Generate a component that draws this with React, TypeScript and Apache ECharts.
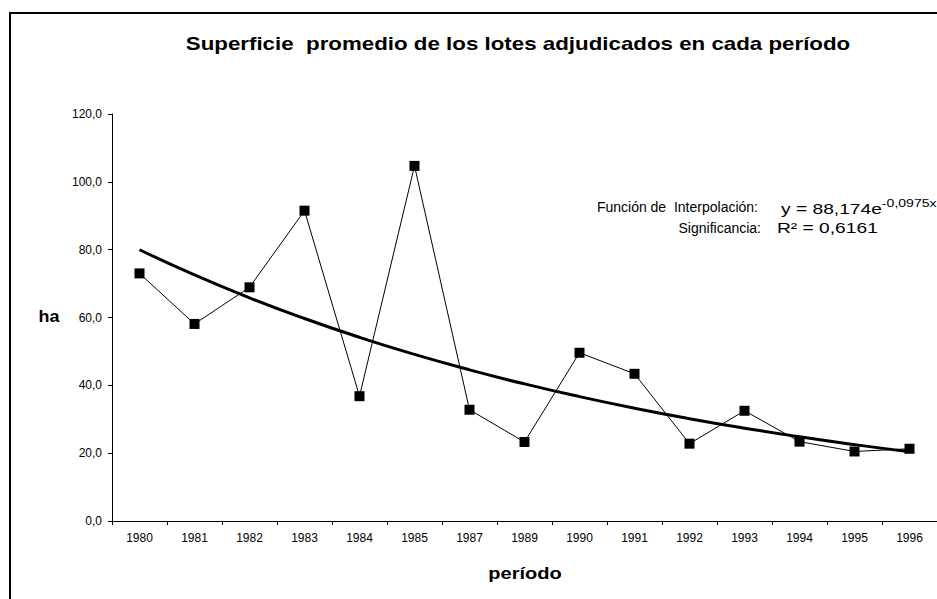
import React, { useEffect, useRef } from "react";
import * as echarts from "echarts";

const categories = ["1980", "1981", "1982", "1983", "1984", "1985", "1987", "1989", "1990", "1991", "1992", "1993", "1994", "1995", "1996"];
const superficie = [73.0, 58.1, 68.9, 91.5, 36.8, 104.7, 32.8, 23.3, 49.6, 43.4, 22.8, 32.5, 23.4, 20.5, 21.3];
// exponential trend (y = 88,174e^-0,0975x)
const tendencia = [79.98, 72.55, 65.81, 59.7, 54.15, 49.12, 44.56, 40.42, 36.67, 33.26, 30.17, 27.37, 24.83, 22.52, 20.43];
const yTicks = { min: 0, max: 120, interval: 20 };

const FONT = "Liberation Sans, Arial, sans-serif";

export default function App() {
  const ref = useRef<HTMLDivElement>(null);
  useEffect(() => {
    if (!ref.current) return;
    const chart = echarts.init(ref.current, undefined, { renderer: "svg" });
    chart.setOption({
      animation: false,
      backgroundColor: "#ffffff",
      grid: { left: 112, right: 0, top: 114, bottom: 78 },
      xAxis: {
        type: "category",
        data: categories,
        boundaryGap: true,
        axisLine: { lineStyle: { color: "#000", width: 1 } },
        axisTick: { show: true, length: 4, lineStyle: { color: "#000" } },
        axisLabel: { fontFamily: FONT, fontSize: 12, color: "#000", margin: 11 },
      },
      yAxis: {
        type: "value",
        min: yTicks.min,
        max: yTicks.max,
        interval: yTicks.interval,
        axisLine: { show: true, lineStyle: { color: "#000", width: 1 } },
        axisTick: { show: true, length: 4, lineStyle: { color: "#000" } },
        splitLine: { show: false },
        axisLabel: {
          fontFamily: FONT,
          fontSize: 12,
          color: "#000",
          margin: 10,
          formatter: (v: number) => v.toFixed(1).replace(".", ","),
        },
      },
      series: [
        {
          type: "line",
          data: superficie,
          symbol: "rect",
          symbolSize: 10,
          itemStyle: { color: "#000" },
          lineStyle: { color: "#000", width: 1 },
          z: 3,
        },
        {
          type: "line",
          data: tendencia,
          symbol: "none",
          smooth: true,
          lineStyle: { color: "#000", width: 3 },
          z: 2,
        },
      ],
      graphic: [
        {
          type: "rect",
          shape: { x: 10, y: 13, width: 1000, height: 700 },
          style: { fill: "none", stroke: "#000", lineWidth: 2 },
          silent: true,
        },
        {
          type: "text",
          x: 518,
          y: 44,
          scaleX: 1.24,
          style: {
            text: "Superficie  promedio de los lotes adjudicados en cada período",
            fontFamily: FONT, fontSize: 18, fontWeight: "bold", fill: "#000", align: "center", verticalAlign: "middle",
          },
        },
        {
          type: "text",
          x: 525,
          y: 573,
          scaleX: 1.18,
          style: { text: "período", fontFamily: FONT, fontSize: 17, fontWeight: "bold", fill: "#000", align: "center", verticalAlign: "middle" },
        },
        {
          type: "text",
          x: 49,
          y: 317,
          scaleX: 1.12,
          style: { text: "ha", fontFamily: FONT, fontSize: 16, fontWeight: "bold", fill: "#000", align: "center", verticalAlign: "middle" },
        },
        {
          type: "text",
          x: 758,
          y: 207,
          style: { text: "Función de  Interpolación:", fontFamily: FONT, fontSize: 14, fill: "#000", align: "right", verticalAlign: "middle" },
        },
        {
          type: "text",
          x: 781,
          y: 207,
          scaleX: 1.28,
          style: {
            text: "{a|y = 88,174e}{b|-0,0975x}",
            align: "left",
            verticalAlign: "middle",
            rich: {
              a: { fontFamily: FONT, fontSize: 15, fill: "#000", lineHeight: 18, verticalAlign: "bottom" },
              b: { fontFamily: FONT, fontSize: 11, fill: "#000", lineHeight: 11, verticalAlign: "top" },
            },
          },
        },
        {
          type: "text",
          x: 761,
          y: 228,
          style: { text: "Significancia:", fontFamily: FONT, fontSize: 14, fill: "#000", align: "right", verticalAlign: "middle" },
        },
        {
          type: "text",
          x: 777,
          y: 228,
          scaleX: 1.28,
          style: { text: "R² = 0,6161", fontFamily: FONT, fontSize: 15, fill: "#000", align: "left", verticalAlign: "middle" },
        },
      ],
    });
    return () => chart.dispose();
  }, []);
  return <div ref={ref} style={{ position: "fixed", left: 0, top: 0, width: 937, height: 599 }} />;
}
